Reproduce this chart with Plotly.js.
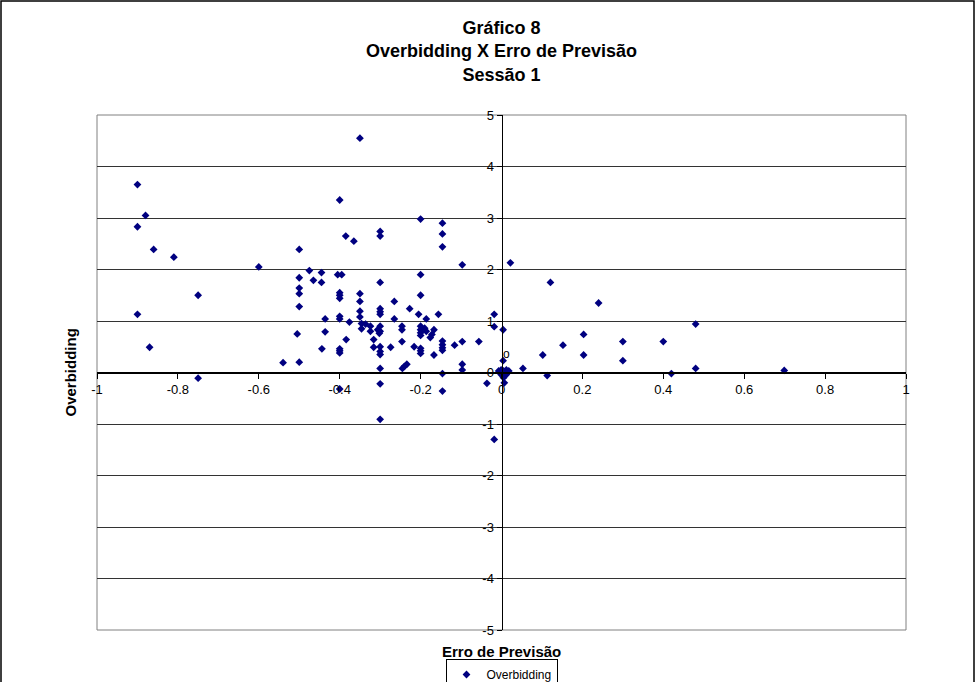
<!DOCTYPE html>
<html>
<head>
<meta charset="utf-8">
<script src="https://cdn.plot.ly/plotly-3.0.1.min.js"></script>
<style>html,body{margin:0;padding:0;background:#fff;}#chart{width:976px;height:682px;}</style>
</head>
<body>
<div id="chart"></div>
<script>
// Erro de Previsão (x) and Overbidding (y)
const erroPrevisao = [
  -0.9, -0.88, -0.9, -0.86, -0.81, -0.6, -0.75, -0.9, -0.87, -0.75,
  -0.54, -0.5, -0.5, -0.5, -0.5, -0.5, -0.505, -0.5, -0.475, -0.465,
  -0.445, -0.445, -0.405, -0.395, -0.4, -0.4, -0.4, -0.4, -0.385, -0.365,
  -0.35, -0.35, -0.3, -0.3, -0.3, -0.2, -0.2, -0.2, -0.146, -0.146,
  -0.146, -0.097, 0.022, -0.436, -0.436, -0.444, -0.4, -0.4, -0.376, -0.384,
  -0.4, -0.4, -0.4, -0.4, -0.35, -0.35, -0.35, -0.346, -0.336, -0.346,
  -0.324, -0.324, -0.316, -0.316, -0.306, -0.302, -0.3, -0.3, -0.3, -0.3,
  -0.3, -0.3, -0.3, -0.3, -0.3, -0.3, -0.3, -0.274, -0.265, -0.265,
  -0.246, -0.246, -0.246, -0.245, -0.24, -0.234, -0.227, -0.216, -0.205, -0.2,
  -0.2, -0.2, -0.2, -0.19, -0.186, -0.186, -0.2, -0.2, -0.2, -0.176,
  -0.172, -0.167, -0.167, -0.156, -0.146, -0.146, -0.146, -0.146, -0.146, -0.146,
  -0.116, -0.097, -0.097, -0.097, -0.056, -0.036, -0.018, -0.018, 0.004, 0.004,
  -0.007, -0.001, 0.005, 0.012, 0.018, -0.001, 0.005, 0.012, 0.005, 0.007,
  -0.018, 0.121, 0.24, 0.203, 0.152, 0.102, 0.203, 0.3, 0.3, 0.4,
  0.48, 0.48, 0.42, 0.699, 0.053, 0.113
];
const overbidding = [
  3.65, 3.05, 2.83, 2.39, 2.24, 2.05, 1.5, 1.13, 0.49, -0.11,
  0.19, 2.39, 1.84, 1.64, 1.53, 1.28, 0.75, 0.2, 1.98, 1.79,
  1.94, 1.75, 1.9, 1.9, 3.35, 1.55, 1.5, 1.44, 2.65, 2.55,
  4.55, 1.53, 2.74, 2.65, 1.75, 2.98, 1.9, 1.5, 2.9, 2.69,
  2.44, 2.09, 2.13, 1.04, 0.79, 0.46, 1.09, 1.04, 0.98, 0.64,
  0.46, 0.42, 0.38, -0.32, 1.38, 1.19, 1.08, 0.95, 0.94, 0.85,
  0.9, 0.8, 0.64, 0.49, 0.83, 0.76, 1.24, 1.18, 1.13, 0.9,
  0.8, 0.5, 0.41, 0.35, 0.08, -0.22, -0.91, 0.49, 1.38, 1.04,
  0.9, 0.83, 0.6, 0.08, 0.12, 0.16, 1.24, 0.5, 1.13, 0.9,
  0.83, 0.77, 0.72, 0.86, 0.8, 1.04, 0.47, 0.42, 0.37, 0.68,
  0.74, 0.83, 0.34, 1.13, 0.61, 0.54, 0.48, 0.43, -0.02, -0.36,
  0.53, 0.6, 0.16, 0.05, 0.6, -0.21, 1.13, 0.89, 0.83, 0.23,
  0.03, 0.05, 0.03, 0.05, 0.03, -0.04, -0.02, -0.04, -0.1, -0.2,
  -1.3, 1.75, 1.35, 0.74, 0.53, 0.34, 0.34, 0.6, 0.23, 0.6,
  0.94, 0.08, -0.02, 0.04, 0.08, -0.06
];
const xTickVals = [-1, -0.8, -0.6, -0.4, -0.2, 0, 0.2, 0.4, 0.6, 0.8, 1];
const xTickText = ['-1', '-0.8', '-0.6', '-0.4', '-0.2', '0', '0.2', '0.4', '0.6', '0.8', '1'];
const yTickVals = [-5, -4, -3, -2, -1, 0, 1, 2, 3, 4, 5];
const yTickText = ['-5', '-4', '-3', '-2', '-1', '0', '1', '2', '3', '4', '5'];
const seriesName = 'Overbidding';

const FONT = 'Liberation Sans, Arial, Helvetica, sans-serif';

const trace = {
  type: 'scatter',
  mode: 'markers',
  x: erroPrevisao,
  y: overbidding,
  name: seriesName,
  marker: {symbol: 'diamond', size: 6, color: '#000080', line: {width: 0}},
  cliponaxis: false
};

const layout = {
  width: 976,
  height: 682,
  margin: {l: 97, r: 70, t: 115, b: 52, autoexpand: false},
  paper_bgcolor: '#ffffff',
  plot_bgcolor: '#ffffff',
  font: {family: FONT, color: '#000'},
  title: {
    text: '<b>Gráfico 8</b><br><b>Overbidding X Erro de Previsão</b><br><b>Sessão 1</b>',
    font: {family: FONT, size: 18, color: '#000'},
    x: 0.5, xref: 'paper', xanchor: 'center',
    y: 1 - 33.7 / 682, yref: 'container', yanchor: 'middle',
    automargin: false
  },
  xaxis: {
    range: [-1, 1],
    anchor: 'free', position: 0.5,
    showline: true, linecolor: '#000', linewidth: 2,
    ticks: 'outside', ticklen: 5, tickcolor: '#000', tickwidth: 1,
    tickvals: xTickVals, ticktext: xTickText,
    tickfont: {family: FONT, size: 13, color: '#000'},
    showgrid: false, zeroline: false, automargin: false
  },
  yaxis: {
    range: [-5, 5],
    anchor: 'free', position: 0.5,
    showline: true, linecolor: '#000', linewidth: 1,
    ticks: 'outside', ticklen: 5, tickcolor: '#000', tickwidth: 1,
    tickvals: yTickVals, ticktext: yTickText,
    tickfont: {family: FONT, size: 13, color: '#000'},
    showgrid: true, gridcolor: '#333333', gridwidth: 1,
    zeroline: false, automargin: false
  },
  showlegend: true,
  legend: {
    orientation: 'h',
    x: 0.5, xanchor: 'center',
    y: (630 - 659) / 515, yanchor: 'top',
    bordercolor: '#000', borderwidth: 1, bgcolor: '#fff',
    font: {family: FONT, size: 12, color: '#000'}
  },
  shapes: [
    {type: 'rect', xref: 'paper', yref: 'paper', x0: 0, x1: 1, y0: 0, y1: 1,
     line: {color: '#808080', width: 1}, layer: 'below'},
    {type: 'rect', xref: 'paper', yref: 'paper',
     x0: (1 - 97) / 809, x1: (974 - 97) / 809, y0: (630 - 700) / 515, y1: (630 - 1) / 515,
     line: {color: '#000', width: 1.5}, layer: 'below'}
  ],
  annotations: [
    {text: '<b>Overbidding</b>', xref: 'paper', yref: 'paper', x: (70 - 97) / 809, y: 0.5,
     textangle: -90, showarrow: false, xanchor: 'center', yanchor: 'middle',
     font: {family: FONT, size: 15, color: '#000'}},
    {text: '<b>Erro de Previsão</b>', xref: 'paper', yref: 'paper', x: 0.5, y: (630 - 651) / 515,
     showarrow: false, xanchor: 'center', yanchor: 'middle',
     font: {family: FONT, size: 15, color: '#000'}},
    {text: 'o', xref: 'x', yref: 'y', x: 0.012, y: 0.35, showarrow: false,
     xanchor: 'center', yanchor: 'middle', font: {family: FONT, size: 12, color: '#000'}}
  ]
};

Plotly.newPlot('chart', [trace], layout, {displayModeBar: false, staticPlot: true});
</script>
</body>
</html>
